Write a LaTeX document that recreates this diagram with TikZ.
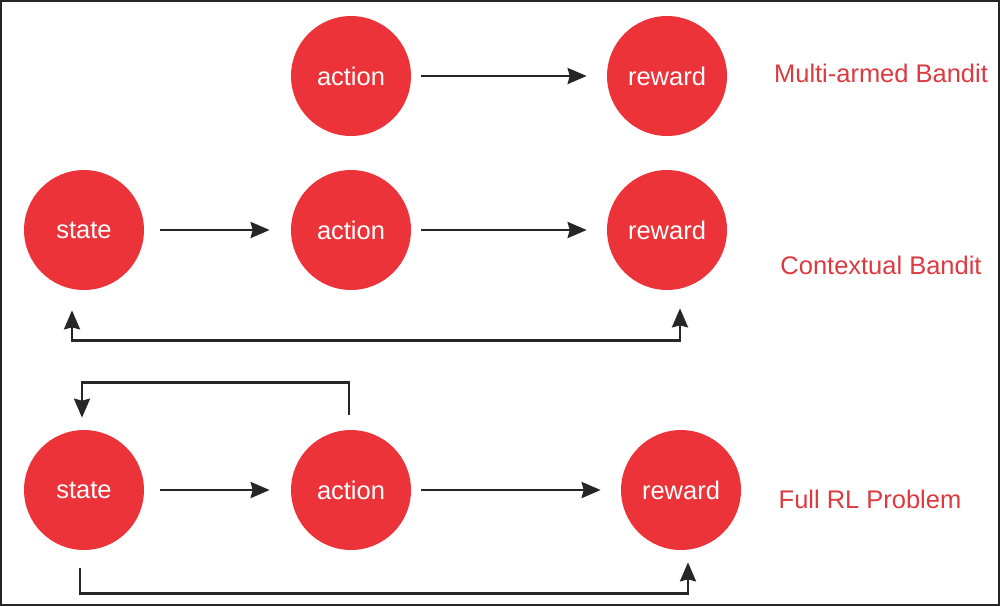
\documentclass[tikz,border=0pt]{standalone}
\usepackage{fontspec}
\setmainfont{Liberation Sans}
\usetikzlibrary{arrows.meta}
\definecolor{banditred}{HTML}{EC3339}
\definecolor{labelred}{HTML}{DD3A40}
\definecolor{framegray}{HTML}{262626}
\tikzset{
    stage/.style={circle, fill=banditred, minimum size=2.4cm, inner sep=0pt,
        text=white, font=\fontsize{14.5}{17}\selectfont},
    kind/.style={text=labelred, font=\fontsize{14.5}{17}\selectfont},
    tip/.tip={Stealth[length=0.38cm, width=0.32cm, inset=0.04cm]},
    flow/.style={-tip, line width=1.5pt, draw=framegray}
}
\begin{document}
\begin{tikzpicture}[x=0.02cm, y=-0.02cm]
    \useasboundingbox (0,0) rectangle (1000,606);
    \draw[framegray, line width=1.3pt] (1.2,1.2) rectangle (998.8,604.8);

    % Multi-armed bandit
    \node[stage] (a1) at (351, 76) {action};
    \node[stage] (r1) at (667, 76) {reward};
    \node[kind] (mab) at (881, 73) {Multi-armed Bandit};

    % Contextual bandit
    \node[stage] (s2) at (84, 230) {state};
    \node[stage] (a2) at (351, 230) {action};
    \node[stage] (r2) at (667, 230) {reward};
    \node[kind] (cb) at (881, 265) {Contextual Bandit};

    % Full RL problem
    \node[stage] (s3) at (84, 490) {state};
    \node[stage] (a3) at (351, 490) {action};
    \node[stage] (r3) at (681, 490) {reward};
    \node[kind] (frl) at (870, 499) {Full RL Problem};

    % Edges
    \draw[flow, shorten <=0.2cm, shorten >=0.4cm] (a1) -- (r1);
    \draw[flow, shorten <=0.32cm, shorten >=0.42cm] (s2) -- (a2);
    \draw[flow, shorten <=0.2cm, shorten >=0.4cm] (a2) -- (r2);
    \draw[flow, shorten <=0.32cm, shorten >=0.42cm] (s3) -- (a3);
    \draw[flow, shorten <=0.2cm, shorten >=0.4cm] (a3) -- (r3);

    % Feedback loops
    \draw[flow, tip-tip]
        ([xshift=-0.24cm, yshift=-0.4cm]s2.south) -- ++(0,-0.6cm)
        -| ([xshift=0.26cm, yshift=-0.36cm]r2.south);
    \draw[flow] ([xshift=-0.04cm, yshift=0.3cm]a3.north) -- ++(0,0.64cm)
        -| ([xshift=-0.04cm, yshift=0.24cm]s3.north);
    \draw[flow] ([xshift=-0.08cm, yshift=-0.36cm]s3.south) -- ++(0,-0.5cm)
        -| ([xshift=0.14cm, yshift=-0.24cm]r3.south);
\end{tikzpicture}
\end{document}
